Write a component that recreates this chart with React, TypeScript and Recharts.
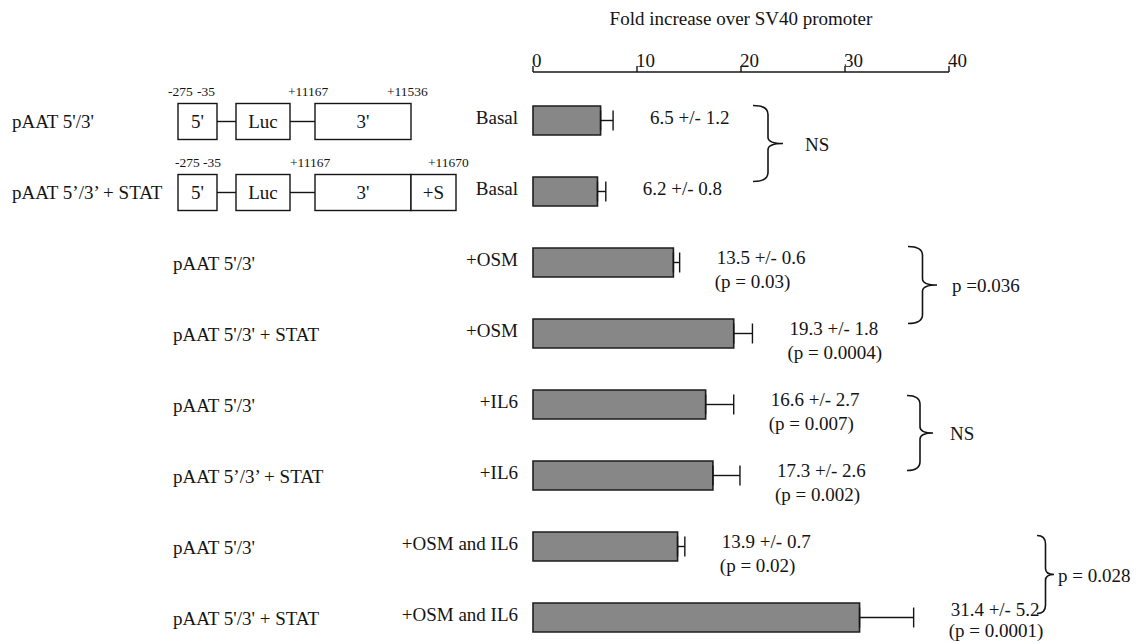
import { Bar, BarChart, ErrorBar, LabelList, XAxis, YAxis } from "recharts"

// --- data ---
const constructs = [
  "pAAT 5'/3'",
  "pAAT 5’/3’ + STAT",
  "pAAT 5'/3'",
  "pAAT 5'/3' + STAT",
  "pAAT 5'/3'",
  "pAAT 5’/3’ + STAT",
  "pAAT 5'/3'",
  "pAAT 5'/3' + STAT",
]
const treatments = ["Basal", "Basal", "+OSM", "+OSM", "+IL6", "+IL6", "+OSM and IL6", "+OSM and IL6"]
const means = [6.5, 6.2, 13.5, 19.3, 16.6, 17.3, 13.9, 31.4]
const errors = [1.2, 0.8, 0.6, 1.8, 2.7, 2.6, 0.7, 5.2]
const pValues = [null, null, "0.03", "0.0004", "0.007", "0.002", "0.02", "0.0001"]
const xTicks = [0, 10, 20, 30, 40]
const braceRows = [0, 2, 4, 6]
const braceLabels = ["NS", "p =0.036", "NS", "p = 0.028"]

// --- layout (pixels) ---
const FONT = '"Liberation Serif", "Times New Roman", serif'
const INK = "#141414"
const BAND = 71
const braceLayout = [
  { x: 753, w: 30, dt: -15, db: -10, lx: 805 },
  { x: 908, w: 29, dt: -16, db: -10, lx: 952 },
  { x: 907, w: 26, dt: -9, db: -5, lx: 950 },
  { x: 1037, w: 17, dt: -11, db: -4, lx: 1058 },
]

const rows = means.map((m, i) => ({ id: `r${i}`, mean: m, err: [0, errors[i]] }))

function bracePath(x: number, top: number, bottom: number, w: number) {
  const mid = (top + bottom) / 2
  const vx = x + w / 2
  const r = Math.min(9, w / 2)
  return `M${x},${top} Q${vx},${top} ${vx},${top + r} L${vx},${mid - r * 0.7} Q${vx},${mid} ${x + w},${mid} Q${vx},${mid} ${vx},${mid + r * 0.7} L${vx},${bottom - r} Q${vx},${bottom} ${x},${bottom}`
}

function Txt(props: any) {
  return <text fontFamily={FONT} fill={INK} fontSize={19} {...props} />
}

// schematic of the reporter constructs drawn next to the first two rows
function Construct({ y, stat }: { y: number; stat: boolean }) {
  const top = y - 17
  const h = 36
  const mid = top + h / 2
  const boxes = [
    { x0: 178, x1: 217, t: "5'" },
    { x0: 236, x1: 290, t: "Luc" },
    { x0: 315, x1: 411, t: "3'" },
  ]
  if (stat) boxes.push({ x0: 411, x1: 456, t: "+S" })
  const nums = stat
    ? [
        { x: 175, t: "-275" },
        { x: 203, t: "-35" },
        { x: 290, t: "+11167" },
        { x: 428, t: "+11670" },
      ]
    : [
        { x: 168, t: "-275" },
        { x: 197, t: "-35" },
        { x: 288, t: "+11167" },
        { x: 387, t: "+11536" },
      ]
  return (
    <g>
      <line x1={217} x2={236} y1={mid} y2={mid} stroke={INK} strokeWidth={1.4} />
      <line x1={290} x2={315} y1={mid} y2={mid} stroke={INK} strokeWidth={1.4} />
      {boxes.map((b) => (
        <g key={b.t}>
          <rect x={b.x0} y={top} width={b.x1 - b.x0} height={h} fill="#fff" stroke={INK} strokeWidth={1.4} />
          <Txt x={(b.x0 + b.x1) / 2} y={mid + 6} textAnchor="middle">
            {b.t}
          </Txt>
        </g>
      ))}
      {nums.map((n) => (
        <Txt key={n.t} x={n.x} y={top - 8} fontSize={13.5}>
          {n.t}
        </Txt>
      ))}
    </g>
  )
}

function RowTick(props: any) {
  const { y, payload } = props
  const i = Number(String(payload.value).slice(1))
  return (
    <g>
      <Txt x={i < 2 ? 12 : 173} y={y + 7}>
        {constructs[i]}
      </Txt>
      <Txt x={518} y={y + 3} textAnchor="end">
        {treatments[i]}
      </Txt>
      {i < 2 && <Construct y={y} stat={i === 1} />}
    </g>
  )
}

function XTick(props: any) {
  const { x, payload } = props
  return (
    <Txt x={x - 1} y={67}>
      {payload.value}
    </Txt>
  )
}

function RowLabel(props: any) {
  const { x, y, width, height, index } = props
  const i = Number(index)
  const cy = y + height / 2
  const errEnd = x + (width * (means[i] + errors[i])) / means[i]
  const tx = errEnd + 37
  const p = pValues[i]
  const b = braceRows.indexOf(i)
  const last = i === means.length - 1
  const y1 = p ? (last ? cy - 2 : cy + 1) : cy + 3
  const y2 = last ? cy + 19 : cy + 25
  return (
    <g>
      <Txt x={tx} y={y1}>
        {`${means[i].toFixed(1)} +/- ${errors[i].toFixed(1)}`}
      </Txt>
      {p && <Txt x={tx - 2} y={y2}>{`(p = ${p})`}</Txt>}
      {b >= 0 && (
        <g>
          <path
            d={bracePath(braceLayout[b].x, cy + braceLayout[b].dt, cy + BAND + braceLayout[b].db, braceLayout[b].w)}
            fill="none"
            stroke={INK}
            strokeWidth={1.6}
          />
          <Txt x={braceLayout[b].lx} y={cy + (BAND + braceLayout[b].dt + braceLayout[b].db) / 2 + 7}>
            {braceLabels[b]}
          </Txt>
        </g>
      )}
    </g>
  )
}

export default function App() {
  return (
    <div
      style={{
        position: "fixed",
        top: 0,
        left: 0,
        width: 1142,
        height: 643,
        overflow: "hidden",
        background: "#fff",
        fontFamily: FONT,
      }}
    >
      <BarChart
        width={1142}
        height={653}
        data={rows}
        layout="vertical"
        margin={{ top: 0, right: 193, bottom: 0, left: 0 }}
      >
        <XAxis
          type="number"
          orientation="top"
          domain={[0, 40]}
          ticks={xTicks}
          height={72}
          tick={<XTick />}
          tickSize={6}
          tickLine={{ stroke: INK, strokeWidth: 1.4 }}
          axisLine={{ stroke: INK, strokeWidth: 1.6 }}
          label={{
            value: "Fold increase over SV40 promoter",
            position: "insideTop",
            offset: 12,
            fill: INK,
            fontSize: 19,
            fontFamily: FONT,
          }}
        />
        <YAxis
          type="category"
          dataKey="id"
          width={533}
          axisLine={false}
          tickLine={false}
          interval={0}
          padding={{ top: 13, bottom: 0 }}
          tick={<RowTick />}
        />
        <Bar dataKey="mean" barSize={29} fill="#878787" stroke="#1e1e1e" strokeWidth={1.6} isAnimationActive={false}>
          <ErrorBar dataKey="err" direction="x" width={10} stroke={INK} strokeWidth={1.4} isAnimationActive={false} />
          <LabelList dataKey="mean" content={<RowLabel />} />
        </Bar>
      </BarChart>
    </div>
  )
}
